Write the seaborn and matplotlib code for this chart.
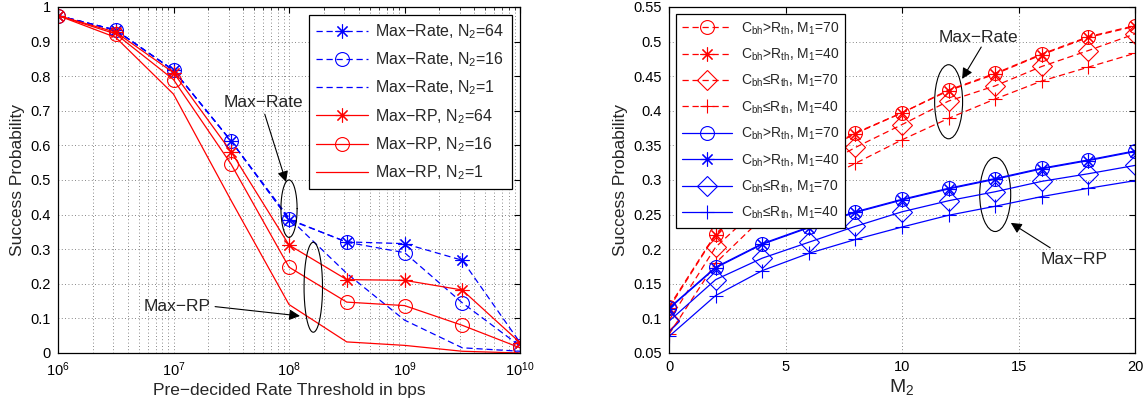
import numpy as np
import seaborn as sns
import matplotlib
matplotlib.use('Agg')
import matplotlib.pyplot as plt
from matplotlib.patches import Ellipse
from matplotlib.ticker import FormatStrFormatter, LogLocator, NullFormatter, MultipleLocator

# ---- left panel: success probability vs rate threshold ----
thresholds = [1e6, 3.16e6, 1e7, 3.16e7, 1e8, 3.16e8, 1e9, 3.16e9, 1e10]
rate_n64 = [0.975, 0.933, 0.817, 0.612, 0.385, 0.321, 0.316, 0.268, 0.030]
rate_n16 = [0.975, 0.933, 0.817, 0.612, 0.387, 0.320, 0.290, 0.145, 0.020]
rate_n1 = [0.975, 0.933, 0.817, 0.612, 0.390, 0.230, 0.095, 0.015, 0.005]
rp_n64 = [0.975, 0.927, 0.810, 0.581, 0.312, 0.212, 0.210, 0.182, 0.030]
rp_n16 = [0.975, 0.922, 0.790, 0.545, 0.248, 0.147, 0.137, 0.080, 0.015]
rp_n1 = [0.975, 0.912, 0.748, 0.440, 0.140, 0.032, 0.022, 0.005, 0.000]

# ---- right panel: success probability vs M2 ----
m2 = [0, 2, 4, 6, 8, 10, 12, 14, 16, 18, 20]
rate_gt_70 = [0.117, 0.222, 0.285, 0.332, 0.368, 0.397, 0.430, 0.454, 0.482, 0.507, 0.523]
rate_gt_40 = [0.115, 0.221, 0.284, 0.331, 0.367, 0.397, 0.429, 0.453, 0.481, 0.506, 0.522]
rate_le_70 = [0.097, 0.203, 0.265, 0.310, 0.347, 0.380, 0.414, 0.436, 0.464, 0.487, 0.511]
rate_le_40 = [0.077, 0.180, 0.245, 0.290, 0.324, 0.358, 0.389, 0.417, 0.443, 0.463, 0.483]
rp_gt_70 = [0.115, 0.174, 0.208, 0.232, 0.254, 0.272, 0.288, 0.302, 0.317, 0.329, 0.342]
rp_gt_40 = [0.114, 0.173, 0.207, 0.231, 0.253, 0.271, 0.287, 0.301, 0.316, 0.328, 0.341]
rp_le_70 = [0.096, 0.156, 0.187, 0.210, 0.233, 0.254, 0.270, 0.283, 0.298, 0.309, 0.321]
rp_le_40 = [0.074, 0.133, 0.169, 0.194, 0.214, 0.232, 0.249, 0.262, 0.276, 0.288, 0.299]

sns.set_theme(style='white')
plt.rcParams['font.family'] = ['Liberation Sans', 'DejaVu Sans']
plt.rcParams['mathtext.fontset'] = 'custom'
plt.rcParams['mathtext.rm'] = 'Liberation Sans'
plt.rcParams['mathtext.it'] = 'Liberation Sans:italic'
plt.rcParams['mathtext.bf'] = 'Liberation Sans:bold'
plt.rcParams['mathtext.default'] = 'regular'
plt.rcParams['axes.unicode_minus'] = True

BLUE = '#0000ff'
RED = '#ff0000'
DASH = (0, (5, 3))
STAR = (8, 2, 0)
GRID = dict(linestyle=(0, (1, 3)), color='#606060', linewidth=0.6)


def draw(ax, x, y, color, ls, marker, label):
    sns.lineplot(x=x, y=y, ax=ax, color=color, linestyle=ls, linewidth=0.9,
                 marker=marker, markersize=10, markerfacecolor='none',
                 markeredgecolor=color, markeredgewidth=0.8,
                 label=label, legend=False, errorbar=None)


def style_axes(ax):
    ax.grid(True, which='major', **GRID)
    ax.tick_params(direction='in', top=True, right=True, labelsize=10.5,
                   length=4, width=0.8, pad=5, colors='black')
    for s in ax.spines.values():
        s.set_color('black')
        s.set_linewidth(0.9)


fig = plt.figure(figsize=(11.46, 4.07), dpi=100)
ax1 = fig.add_axes([0.0506, 0.1327, 0.4032, 0.8503])
ax2 = fig.add_axes([0.5838, 0.1327, 0.4066, 0.8503])

# left
draw(ax1, thresholds, rate_n64, BLUE, DASH, STAR, 'Max\u2212Rate, N$_2$=64')
draw(ax1, thresholds, rate_n16, BLUE, DASH, 'o', 'Max\u2212Rate, N$_2$=16')
draw(ax1, thresholds, rate_n1, BLUE, DASH, None, 'Max\u2212Rate, N$_2$=1')
draw(ax1, thresholds, rp_n64, RED, '-', STAR, 'Max\u2212RP, N$_2$=64')
draw(ax1, thresholds, rp_n16, RED, '-', 'o', 'Max\u2212RP, N$_2$=16')
draw(ax1, thresholds, rp_n1, RED, '-', None, 'Max\u2212RP, N$_2$=1')

ax1.set_xscale('log')
ax1.set_xlim(1e6, 1e10)
ax1.set_ylim(0, 1)
ax1.yaxis.set_major_locator(MultipleLocator(0.1))
ax1.yaxis.set_major_formatter(FormatStrFormatter('%g'))
ax1.xaxis.set_major_locator(LogLocator(base=10, numticks=10))
ax1.xaxis.set_minor_locator(LogLocator(base=10, subs=np.arange(2, 10), numticks=100))
ax1.xaxis.set_minor_formatter(NullFormatter())
style_axes(ax1)
ax1.grid(True, which='minor', axis='x', **GRID)
ax1.tick_params(which='minor', direction='in', top=True, length=2, width=0.6)
ax1.set_xlabel('Pre\u2212decided Rate Threshold in bps', fontsize=12.5, labelpad=3)
ax1.set_ylabel('Success Probability', fontsize=12.5, labelpad=4)
ax1.legend(loc='upper right', fontsize=11.5, frameon=True, fancybox=False,
           edgecolor='black', framealpha=1, handlelength=3.2, labelspacing=0.6,
           handletextpad=0.5, borderaxespad=0.5, borderpad=0.45).get_frame().set_linewidth(0.9)

# ellipses in log-x space
t = np.linspace(0, 2 * np.pi, 200)
for lx, yc, dx, dy in [(8.0, 0.417, 0.07, 0.083), (8.21, 0.19, 0.08, 0.13)]:
    ax1.plot(10 ** (lx + dx * np.cos(t)), yc + dy * np.sin(t), color='black', lw=0.8)
arrow = dict(arrowstyle='-|>', color='black', lw=0.8, mutation_scale=16,
             shrinkA=0, shrinkB=0)
ax1.text(10 ** 7.775, 0.724, 'Max\u2212Rate', fontsize=12.5, ha='center', va='center')
ax1.annotate('', xy=(10 ** 7.974, 0.494), xytext=(10 ** 7.79, 0.69), arrowprops=arrow)
ax1.text(10 ** 7.03, 0.134, 'Max\u2212RP', fontsize=12.5, ha='center', va='center')
ax1.annotate('', xy=(10 ** 8.095, 0.107), xytext=(10 ** 7.36, 0.134), arrowprops=arrow)

# right
lab = {
    'gt70': 'C$_{bh}$>R$_{th}$, M$_1$=70',
    'gt40': 'C$_{bh}$>R$_{th}$, M$_1$=40',
    'le70': 'C$_{bh}$\u2264R$_{th}$, M$_1$=70',
    'le40': 'C$_{bh}$\u2264R$_{th}$, M$_1$=40',
}
draw(ax2, m2, rate_gt_70, RED, DASH, 'o', lab['gt70'])
draw(ax2, m2, rate_gt_40, RED, DASH, STAR, lab['gt40'])
draw(ax2, m2, rate_le_70, RED, DASH, 'D', lab['le70'])
draw(ax2, m2, rate_le_40, RED, DASH, '+', lab['le40'])
draw(ax2, m2, rp_gt_70, BLUE, '-', 'o', lab['gt70'])
draw(ax2, m2, rp_gt_40, BLUE, '-', STAR, lab['gt40'])
draw(ax2, m2, rp_le_70, BLUE, '-', 'D', lab['le70'])
draw(ax2, m2, rp_le_40, BLUE, '-', '+', lab['le40'])

ax2.set_xlim(0, 20)
ax2.set_ylim(0.05, 0.55)
ax2.xaxis.set_major_locator(MultipleLocator(5))
ax2.yaxis.set_major_locator(MultipleLocator(0.05))
ax2.yaxis.set_major_formatter(FormatStrFormatter('%g'))
style_axes(ax2)
ax2.set_xlabel('M$_2$', fontsize=14, labelpad=2)
ax2.set_ylabel('Success Probability', fontsize=12.5, labelpad=4)
ax2.legend(loc='upper left', fontsize=10, frameon=True, fancybox=False,
           edgecolor='black', framealpha=1, handlelength=3.6, labelspacing=0.72,
           handletextpad=0.6, borderaxespad=0.5, borderpad=0.45).get_frame().set_linewidth(0.9)

for xc, yc, w, h in [(12, 0.413, 1.2, 0.107), (14, 0.279, 1.33, 0.107)]:
    ax2.add_patch(Ellipse((xc, yc), w, h, fill=False, edgecolor='black', lw=0.8))
ax2.text(13.3, 0.506, 'Max\u2212Rate', fontsize=12.5, ha='center', va='center')
ax2.annotate('', xy=(12.58, 0.446), xytext=(13.4, 0.492), arrowprops=arrow)
ax2.text(17.4, 0.185, 'Max\u2212RP', fontsize=12.5, ha='center', va='center')
ax2.annotate('', xy=(14.67, 0.238), xytext=(16.36, 0.202), arrowprops=arrow)

fig.savefig('out.png', dpi=100)
